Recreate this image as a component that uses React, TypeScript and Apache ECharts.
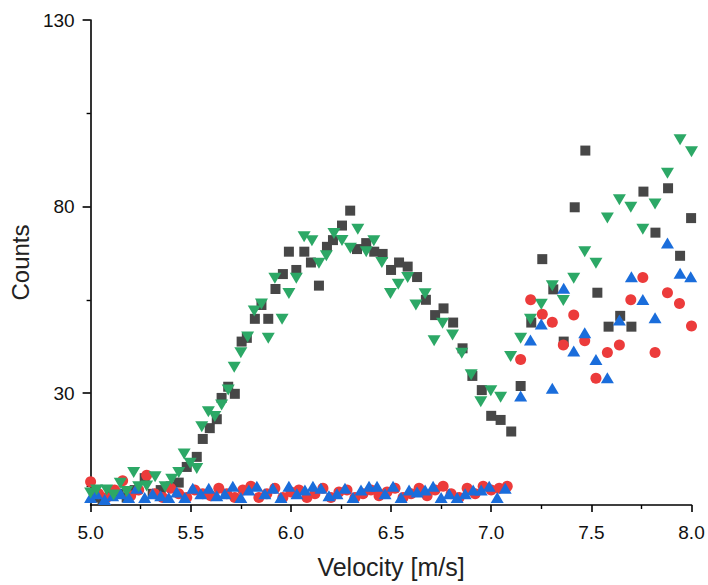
import React, { useEffect, useRef } from "react";
import * as echarts from "echarts";

// Velocity [m/s], Counts
const graySquares: [number, number][] = [
  [5.02, 2], [5.06, 1.5], [5.1, 2.5], [5.14, 3], [5.18, 2], [5.22, 4], [5.27, 7.2], [5.31, 3],
  [5.35, 4], [5.4, 5], [5.44, 6], [5.48, 10.2], [5.53, 12.9], [5.56, 17.7], [5.595, 20.6],
  [5.63, 23], [5.654, 28.7], [5.687, 31.7], [5.72, 29.8], [5.754, 43.8], [5.78, 44.8],
  [5.82, 49.9], [5.853, 53.6], [5.887, 49.9], [5.923, 57.9], [5.96, 61.9], [5.99, 67.9],
  [6.027, 63], [6.067, 67.9], [6.1, 65], [6.14, 58.8], [6.18, 69.2], [6.21, 71], [6.255, 74.9],
  [6.296, 78.9], [6.33, 68.6], [6.376, 70.2], [6.416, 67.9], [6.458, 67.3], [6.5, 63],
  [6.54, 65], [6.583, 63.9], [6.63, 61.1], [6.674, 55], [6.72, 50.9], [6.762, 52.7],
  [6.81, 48.9], [6.857, 42], [6.906, 34.6], [6.953, 30.8], [7.0, 23.9], [7.047, 22.8],
  [7.1, 19.7], [7.147, 31.9], [7.2, 48.9], [7.255, 65.9], [7.31, 57.8], [7.362, 43.8],
  [7.417, 79.8], [7.47, 95], [7.53, 56.9], [7.586, 47.8], [7.644, 50.7], [7.7, 47.8],
  [7.76, 84], [7.82, 73], [7.883, 84.9], [7.943, 66.8], [7.998, 76.9],
];

const redCircles: [number, number][] = [
  [5.0, 6.2], [5.04, 3], [5.08, 2], [5.12, 4], [5.16, 6.5], [5.2, 2.5], [5.24, 4], [5.28, 8],
  [5.32, 3], [5.36, 2], [5.4, 4.5], [5.44, 3], [5.48, 2], [5.52, 4], [5.56, 3], [5.6, 2.5],
  [5.64, 4.5], [5.68, 3], [5.72, 2], [5.76, 4], [5.8, 5], [5.84, 2], [5.88, 3], [5.92, 4.5],
  [5.96, 2], [6.0, 3.5], [6.04, 4], [6.08, 2], [6.12, 3], [6.16, 4.5], [6.2, 2], [6.24, 3.5],
  [6.28, 4], [6.32, 2], [6.36, 3], [6.4, 4], [6.44, 2.5], [6.48, 3.5], [6.52, 4.5], [6.56, 2],
  [6.6, 3], [6.64, 4.5], [6.68, 2.5], [6.72, 4], [6.76, 5], [6.8, 3], [6.84, 2], [6.88, 4.5],
  [6.92, 3], [6.96, 5], [7.0, 4], [7.04, 4.5], [7.08, 5],
  [7.147, 39], [7.197, 55], [7.255, 51.1], [7.305, 49], [7.36, 42.9], [7.412, 50.9],
  [7.467, 44], [7.523, 34], [7.58, 40.9], [7.64, 42.9], [7.697, 55], [7.757, 61],
  [7.818, 40.9], [7.88, 56.9], [7.94, 54], [8.0, 48],
];

const blueTriangles: [number, number][] = [
  [5.0, 2], [5.03, 3], [5.07, 1.5], [5.11, 2.5], [5.15, 3], [5.19, 2], [5.23, 4.5], [5.27, 2],
  [5.31, 3], [5.35, 2.5], [5.39, 2], [5.43, 3.5], [5.47, 2], [5.51, 4.5], [5.55, 3], [5.59, 4.5],
  [5.63, 2.5], [5.67, 3], [5.71, 5], [5.75, 2], [5.79, 4], [5.83, 5], [5.87, 3], [5.91, 4.5],
  [5.95, 2], [5.99, 5], [6.03, 3], [6.07, 4], [6.11, 5], [6.15, 4.5], [6.19, 2.5], [6.23, 3],
  [6.27, 4.5], [6.31, 2], [6.35, 4], [6.39, 5], [6.43, 5], [6.47, 3], [6.51, 5], [6.55, 2],
  [6.59, 4], [6.63, 3.5], [6.67, 4], [6.71, 5], [6.75, 2], [6.79, 3], [6.83, 2], [6.87, 3],
  [6.91, 4], [6.95, 4], [6.99, 5], [7.03, 2], [7.07, 4.5],
  [7.147, 29.2], [7.196, 44.2], [7.25, 48.5], [7.305, 31.3], [7.362, 58.1], [7.412, 41.3],
  [7.467, 46.2], [7.523, 39], [7.58, 34.1], [7.64, 49.6], [7.7, 61.2], [7.757, 55.1],
  [7.818, 50.2], [7.88, 70.2], [7.943, 62.1], [7.996, 61.2],
];

const greenTriangles: [number, number][] = [
  [5.0, 3.2], [5.03, 4], [5.08, 4], [5.115, 2.7], [5.148, 5.8], [5.18, 3.6], [5.215, 8.7],
  [5.24, 4.9], [5.28, 5.1], [5.322, 7.6], [5.372, 4.9], [5.405, 6.9], [5.44, 8.7], [5.467, 13.7],
  [5.497, 11.2], [5.53, 9.8], [5.555, 21], [5.588, 25], [5.62, 23.7], [5.654, 26.8],
  [5.687, 30.8], [5.717, 36.9], [5.75, 40.8], [5.784, 45], [5.817, 52], [5.853, 53.9],
  [5.887, 44.7], [5.92, 60.8], [5.956, 49.8], [5.99, 56.7], [6.027, 60.8], [6.066, 71.9],
  [6.105, 70.8], [6.14, 64.8], [6.177, 66.8], [6.215, 72.8], [6.255, 70.9], [6.297, 68.8],
  [6.334, 73.9], [6.376, 67.9], [6.414, 70.8], [6.454, 65], [6.497, 56.7], [6.536, 59.2],
  [6.583, 61], [6.624, 53.6], [6.67, 56.6], [6.715, 44], [6.757, 48.7], [6.807, 45.6],
  [6.853, 40.7], [6.9, 34.9], [6.948, 27.7], [6.998, 30.6], [7.047, 28.9], [7.097, 39.8],
  [7.147, 44.7], [7.196, 49.8], [7.25, 53.8], [7.305, 58.8], [7.36, 54.8], [7.412, 60.8],
  [7.467, 67.9], [7.523, 64.8], [7.58, 76.9], [7.64, 81.8], [7.697, 79.8], [7.757, 73.9],
  [7.818, 80.7], [7.88, 88.9], [7.943, 97.9], [8.0, 94.7],
];

const yMajorTicks = [30, 80, 130];
const yMinorTicks = [5, 55, 105];

const FONT = "Arial, 'Liberation Sans', sans-serif";

export default function App() {
  const ref = useRef<HTMLDivElement>(null);
  useEffect(() => {
    if (!ref.current) return;
    const chart = echarts.init(ref.current, undefined, { renderer: "svg" });
    const axisLine = { show: true, lineStyle: { color: "#000", width: 1.6 } };
    chart.setOption({
      animation: false,
      backgroundColor: "#fff",
      grid: { left: 88.5, right: 16.5, top: 20, bottom: 80, containLabel: false },
      xAxis: {
        type: "value",
        min: 5,
        max: 8,
        interval: 0.5,
        name: "Velocity [m/s]",
        nameLocation: "middle",
        nameGap: 49,
        nameTextStyle: { fontFamily: FONT, fontSize: 25, color: "#222" },
        axisLine,
        axisTick: { show: true, length: 7, lineStyle: { color: "#000", width: 1.6 } },
        minorTick: { show: true, splitNumber: 2, length: 4, lineStyle: { color: "#000", width: 1.4 } },
        splitLine: { show: false },
        axisLabel: {
          fontFamily: FONT,
          fontSize: 19,
          color: "#111",
          margin: 18,
          formatter: (v: number) => v.toFixed(1),
        },
      },
      yAxis: [
        {
          type: "value",
          min: 0,
          max: 130,
          name: "Counts",
          nameLocation: "middle",
          nameGap: 53,
          nameRotate: 90,
          nameTextStyle: { fontFamily: FONT, fontSize: 24, color: "#222" },
          axisLine,
          axisTick: {
            show: true,
            length: 8,
            customValues: yMajorTicks,
            lineStyle: { color: "#000", width: 1.6 },
          },
          splitLine: { show: false },
          axisLabel: {
            fontFamily: FONT,
            fontSize: 19,
            color: "#111",
            margin: 16,
            customValues: yMajorTicks,
          },
        },
        {
          type: "value",
          min: 0,
          max: 130,
          position: "left",
          axisLine: { show: false },
          axisTick: {
            show: true,
            length: 4,
            customValues: yMinorTicks,
            lineStyle: { color: "#000", width: 1.4 },
          },
          splitLine: { show: false },
          axisLabel: { show: false },
        },
      ],
      series: [
        {
          type: "scatter",
          data: graySquares,
          symbol: "rect",
          symbolSize: 10,
          itemStyle: { color: "#474747", opacity: 1 },
          clip: true,
        },
        {
          type: "scatter",
          data: redCircles,
          symbol: "circle",
          symbolSize: 11,
          itemStyle: { color: "#ec3b3b", opacity: 1 },
          clip: true,
        },
        {
          type: "scatter",
          data: blueTriangles,
          symbol: "triangle",
          symbolSize: [13, 11],
          itemStyle: { color: "#1a6ddb", opacity: 1 },
          clip: true,
        },
        {
          type: "scatter",
          data: greenTriangles,
          symbol: "triangle",
          symbolRotate: 180,
          symbolSize: [13, 11],
          itemStyle: { color: "#2ca866", opacity: 1 },
          clip: true,
        },
      ],
    });
    return () => chart.dispose();
  }, []);
  return (
    <div
      ref={ref}
      style={{ position: "fixed", left: 0, top: 0, width: 708, height: 585, background: "#fff" }}
    />
  );
}
